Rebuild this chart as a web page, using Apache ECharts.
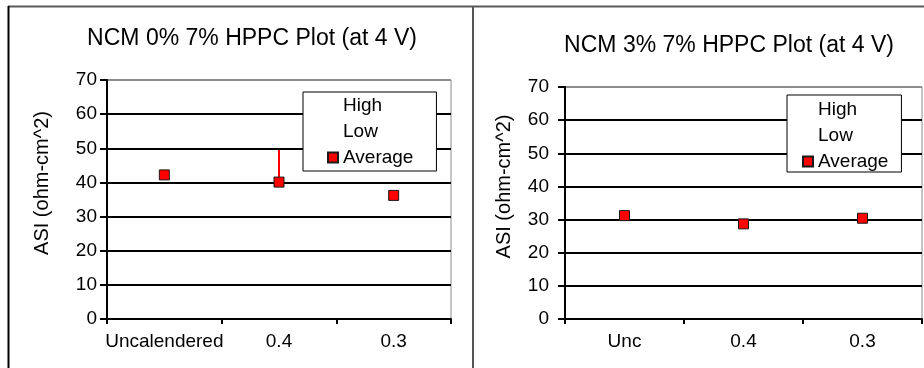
<!DOCTYPE html>
<html>
<head>
<meta charset="utf-8">
<script src="https://cdn.jsdelivr.net/npm/echarts@6/dist/echarts.min.js"></script>
<style>
  html, body { margin: 0; padding: 0; background: #ffffff; }
  #chart { width: 924px; height: 368px; }
</style>
</head>
<body>
<div id="chart"></div>
<script>
// NCM 0% 7% electrode: area-specific impedance by calendering state
const categoriesA = ['Uncalendered', '0.4', '0.3'];
const averageA = [42.2, 40.1, 36.2];
const highA = [42.8, 49.5, 36.7];
const lowA = [41.7, 39.4, 35.7];

// NCM 3% 7% electrode
const categoriesB = ['Unc', '0.4', '0.3'];
const averageB = [31.2, 28.7, 30.4];
const highB = [31.7, 29.2, 30.9];
const lowB = [30.7, 28.2, 29.9];

// value axis ticks (shared by both plots)
const yTicks = [0, 10, 20, 30, 40, 50, 60, 70];

const titles = ['NCM 0% 7% HPPC Plot (at 4 V)', 'NCM 3% 7% HPPC Plot (at 4 V)'];
const yName = 'ASI (ohm-cm^2)';

const FONT = 'Liberation Sans, Arial, sans-serif';
const RED = '#ff0000';

// high-low line drawn between the Low and High values of each category
function rangeItem(params, api) {
  const x = api.value(0);
  const lo = api.coord([x, api.value(1)]);
  const hi = api.coord([x, api.value(2)]);
  return {
    type: 'line',
    shape: { x1: lo[0], y1: lo[1], x2: hi[0], y2: hi[1] },
    style: { stroke: RED, lineWidth: 2 }
  };
}

function yAxisFor(gridIndex, labelMargin, nameGap) {
  const n = yTicks.length;
  return {
    type: 'value',
    gridIndex: gridIndex,
    min: yTicks[0],
    max: yTicks[n - 1],
    interval: yTicks[1] - yTicks[0],
    name: yName,
    nameLocation: 'middle',
    nameGap: nameGap,
    nameRotate: 90,
    nameTextStyle: { fontFamily: FONT, fontSize: 20, color: '#000', padding: [0, 0, 0, 33] },
    axisLine: { show: true, lineStyle: { color: '#000', width: 2 } },
    axisTick: { show: true, inside: false, length: 7, lineStyle: { color: '#000', width: 2 } },
    axisLabel: { margin: labelMargin, fontFamily: FONT, fontSize: 19, color: '#000' },
    splitLine: {
      show: true,
      lineStyle: {
        color: yTicks.map((t, i) => (i === n - 1 ? '#8c8c8c' : '#000000')),
        width: 2
      }
    }
  };
}

function xAxisFor(gridIndex, cats) {
  return {
    type: 'category',
    gridIndex: gridIndex,
    data: cats,
    boundaryGap: true,
    axisLine: { show: true, lineStyle: { color: '#000', width: 2 } },
    axisTick: { show: true, alignWithLabel: false, length: 5, lineStyle: { color: '#000', width: 2 } },
    axisLabel: { margin: 13, fontFamily: FONT, fontSize: 19, color: '#000', interval: 0 },
    splitLine: { show: false }
  };
}

function seriesFor(idx, cats, avg, high, low) {
  return [
    {
      name: 'High', type: 'line', xAxisIndex: idx, yAxisIndex: idx,
      data: high, symbol: 'none', silent: true,
      lineStyle: { opacity: 0 }, itemStyle: { color: 'transparent' }
    },
    {
      name: 'Low', type: 'line', xAxisIndex: idx, yAxisIndex: idx,
      data: low, symbol: 'none', silent: true,
      lineStyle: { opacity: 0 }, itemStyle: { color: 'transparent' }
    },
    {
      name: 'High-Low', type: 'custom', xAxisIndex: idx, yAxisIndex: idx,
      renderItem: rangeItem, z: 3, silent: true,
      data: cats.map((c, i) => [i, low[i], high[i]])
    },
    {
      name: 'Average', type: 'scatter', xAxisIndex: idx, yAxisIndex: idx,
      data: avg, symbol: 'rect', symbolSize: 10, z: 5,
      itemStyle: { color: RED, borderColor: '#1a1a1a', borderWidth: 1, opacity: 1 }
    }
  ];
}

function legendFor(left, top, padding) {
  return {
    left: left, top: top, orient: 'vertical',
    padding: padding,
    itemWidth: 10, itemHeight: 10, itemGap: 7,
    borderColor: '#000', borderWidth: 1, backgroundColor: '#fff',
    selectedMode: false,
    textStyle: { fontFamily: FONT, fontSize: 19, color: '#000', lineHeight: 18 },
    data: [
      { name: 'High', icon: 'rect', itemStyle: { opacity: 0 }, lineStyle: { opacity: 0 } },
      { name: 'Low', icon: 'rect', itemStyle: { opacity: 0 }, lineStyle: { opacity: 0 } },
      { name: 'Average', icon: 'rect' }
    ]
  };
}

const chart = echarts.init(document.getElementById('chart'), null, { renderer: 'canvas' });

chart.setOption({
  backgroundColor: '#ffffff',
  animation: false,
  title: [
    { text: titles[0], left: 252, top: 27, padding: 0, textAlign: 'center',
      textStyle: { fontFamily: FONT, fontSize: 23, fontWeight: 'normal', color: '#000' } },
    { text: titles[1], left: 729, top: 34, padding: 0, textAlign: 'center',
      textStyle: { fontFamily: FONT, fontSize: 23, fontWeight: 'normal', color: '#000' } }
  ],
  legend: [
    legendFor(303, 92, [4, 23, 4, 24]),
    legendFor(787, 95, [5, 13, 1, 15])
  ],
  grid: [
    { left: 107, top: 80, width: 344, height: 239, show: true,
      borderColor: '#8c8c8c', borderWidth: 1, backgroundColor: 'transparent' },
    { left: 565, top: 87, width: 357, height: 232, show: true,
      borderColor: '#8c8c8c', borderWidth: 1, backgroundColor: 'transparent' }
  ],
  xAxis: [xAxisFor(0, categoriesA), xAxisFor(1, categoriesB)],
  yAxis: [yAxisFor(0, 10, 55), yAxisFor(1, 16, 51)],
  series: [].concat(
    seriesFor(0, categoriesA, averageA, highA, lowA),
    seriesFor(1, categoriesB, averageB, highB, lowB)
  ),
  graphic: [
    // chart-area frames
    { type: 'line', silent: true, shape: { x1: 8, y1: 6.5, x2: 924, y2: 6.5 },
      style: { stroke: '#5a5a5a', lineWidth: 2 } },
    { type: 'line', silent: true, shape: { x1: 8.5, y1: 6, x2: 8.5, y2: 368 },
      style: { stroke: '#000', lineWidth: 2 } },
    { type: 'line', silent: true, shape: { x1: 473, y1: 6, x2: 473, y2: 368 },
      style: { stroke: '#555', lineWidth: 2 } }
  ]
});
</script>
</body>
</html>
